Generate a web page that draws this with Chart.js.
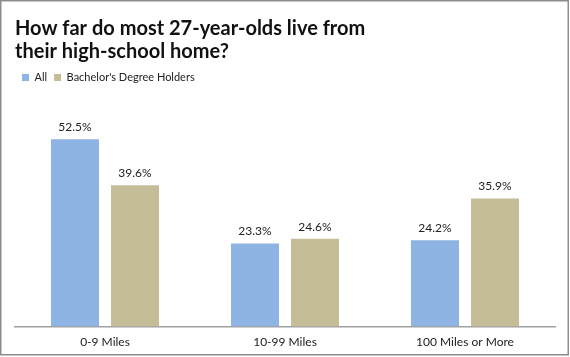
<!DOCTYPE html>
<html>
<head>
<meta charset="utf-8">
<script src="https://cdn.jsdelivr.net/npm/chart.js@4/dist/chart.umd.min.js"></script>
<style>
  html, body { margin: 0; padding: 0; background: #fff; }
  #wrap { width: 570px; height: 357px; position: relative; }
</style>
</head>
<body>
<div id="wrap"><canvas id="c" width="570" height="357"></canvas></div>
<script>
const categories = ["0-9 Miles", "10-99 Miles", "100 Miles or More"];
const seriesNames = ["All", "Bachelor's Degree Holders"];
const allValues = [52.5, 23.3, 24.2];
const bachelorValues = [39.6, 24.6, 35.9];
const titleLines = ["How far do most 27-year-olds live from", "their high-school home?"];

const FONT = "Lato, 'Open Sans', 'Liberation Sans', sans-serif";

const borderPlugin = {
  id: 'frame',
  afterDraw(chart) {
    const ctx = chart.ctx;
    ctx.save();
    ctx.strokeStyle = '#8c8c8c';
    ctx.lineWidth = 1.5;
    ctx.strokeRect(0.75, 0.75, 567.5, 354);
    ctx.restore();
  }
};

const labelPlugin = {
  id: 'valueLabels',
  afterDatasetsDraw(chart) {
    const ctx = chart.ctx;
    ctx.save();
    ctx.font = "12px " + FONT;
    ctx.fillStyle = '#222';
    ctx.textAlign = 'center';
    ctx.textBaseline = 'middle';
    chart.data.datasets.forEach((ds, i) => {
      const meta = chart.getDatasetMeta(i);
      meta.data.forEach((bar, j) => {
        ctx.fillText(ds.data[j].toFixed(1) + '%', bar.x, bar.y - 12);
      });
    });
    ctx.restore();
  }
};

new Chart(document.getElementById('c'), {
  type: 'bar',
  data: {
    labels: categories,
    datasets: [
      { label: seriesNames[0], data: allValues, backgroundColor: '#8eb4e3', borderWidth: 0,
        categoryPercentage: 0.667, barPercentage: 0.8 },
      { label: seriesNames[1], data: bachelorValues, backgroundColor: '#c4bd97', borderWidth: 0,
        categoryPercentage: 0.667, barPercentage: 0.8 }
    ]
  },
  options: {
    responsive: false,
    animation: false,
    devicePixelRatio: 1,
    layout: { padding: { left: 15, right: 15, top: 13, bottom: 0 } },
    plugins: {
      title: {
        display: true,
        text: titleLines,
        align: 'start',
        color: '#111',
        font: { family: FONT, size: 20, weight: 'bold', lineHeight: 1.15 },
        padding: { top: 4, bottom: 2 }
      },
      legend: {
        display: true,
        align: 'start',
        labels: {
          boxWidth: 7, boxHeight: 7, color: '#222',
          font: { family: FONT, size: 11 },
          padding: 7
        }
      },
      tooltip: { enabled: false }
    },
    scales: {
      x: {
        grid: { display: false, drawTicks: false },
        border: { display: true, color: '#a0a0a0', width: 1.5 },
        ticks: { color: '#222', font: { family: FONT, size: 12 }, padding: 8 }
      },
      y: {
        display: false,
        min: 0,
        max: 65.5
      }
    }
  },
  plugins: [borderPlugin, labelPlugin]
});
</script>
</body>
</html>
